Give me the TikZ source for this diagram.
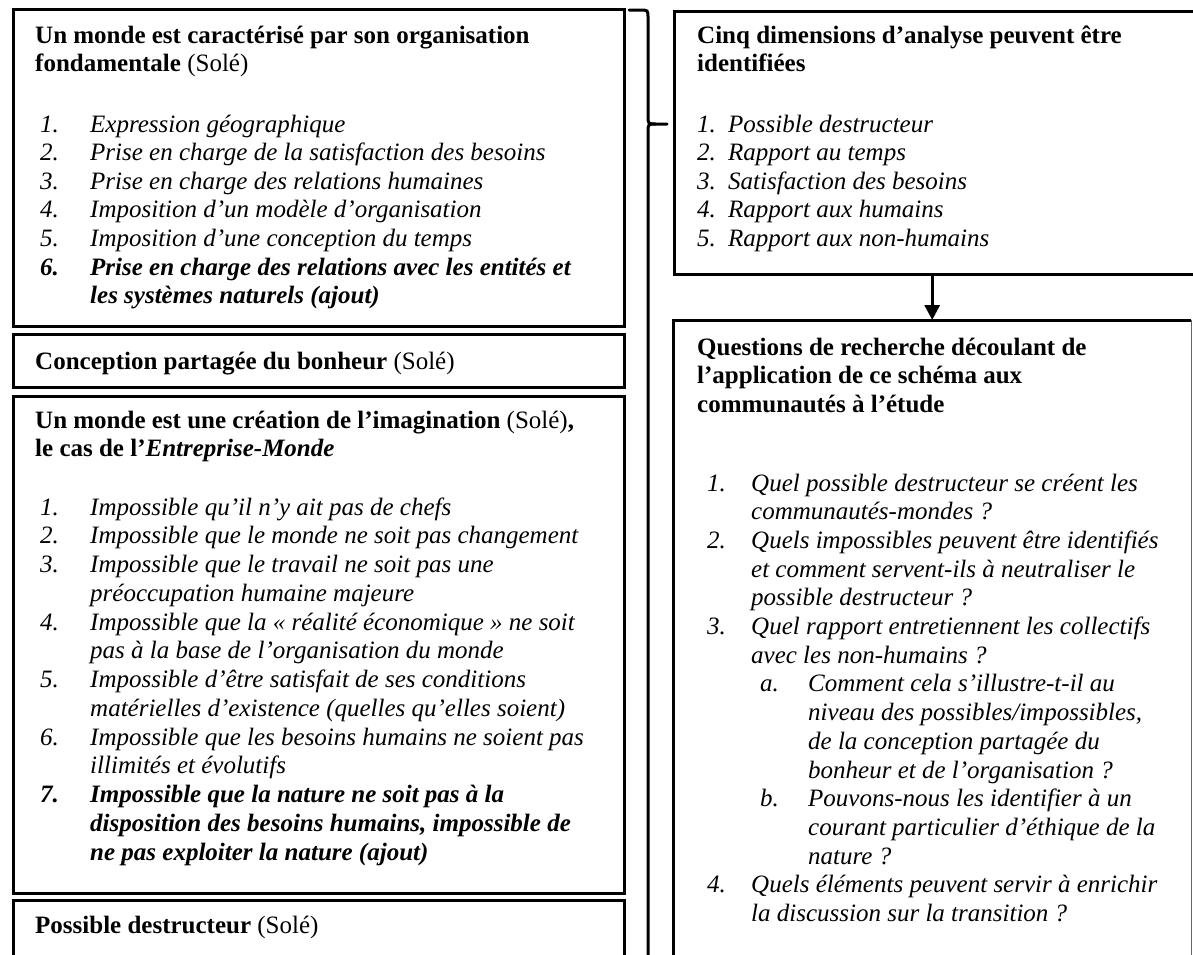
\documentclass[tikz,border=0pt]{standalone}
\usepackage{fontspec}
\setmainfont{Liberation Serif}
\usetikzlibrary{arrows.meta}
% number cell of fixed width, used for the hanging lists
\newcommand{\nm}[2]{\makebox[#1][l]{#2}}
\newcommand{\bi}[1]{\textbf{\textit{#1}}}

\begin{document}
\begin{tikzpicture}[x=1pt,y=-1pt,
  frame/.style={draw=black, line width=3pt, inner sep=0pt, anchor=north west},
  plain/.style={inner sep=0pt, anchor=north west},
  txt/.style={anchor=base west, inner sep=0pt, font=\fontsize{25}{28}\selectfont},
  spaced/.style={font=\fontsize{25}{#1}\selectfont},
  conn/.style={draw=black, line width=3pt},
]
\useasboundingbox (0,0) rectangle (1193,954);
\clip (0,0) rectangle (1193,954);

% ---------------- left column ----------------
\node[frame, minimum width=611pt, minimum height=317pt] (b1) at (12,8) {};
\node[frame, minimum width=611pt, minimum height=53pt]  (b2) at (12,333) {};
\node[frame, minimum width=611pt, minimum height=497pt] (b3) at (12,395) {};
\node[frame, minimum width=611pt, minimum height=120pt] (b4) at (12,899) {};

\node[txt] (b1title) at (35,43) {\begin{tabular}[t]{@{}l@{}}
\textbf{Un monde est caractérisé par son organisation}\\
\textbf{fondamentale} (Solé)
\end{tabular}};
\node[txt, spaced=28.6] (b1list) at (40,132) {\begin{tabular}[t]{@{}l@{}}
\nm{50pt}{\textit{1.}}\textit{Expression géographique}\\
\nm{50pt}{\textit{2.}}\textit{Prise en charge de la satisfaction des besoins}\\
\nm{50pt}{\textit{3.}}\textit{Prise en charge des relations humaines}\\
\nm{50pt}{\textit{4.}}\textit{Imposition d’un modèle d’organisation}\\
\nm{50pt}{\textit{5.}}\textit{Imposition d’une conception du temps}\\
\nm{50pt}{\bi{6.}}\bi{Prise en charge des relations avec les entités et}\\
\hspace*{50pt}\bi{les systèmes naturels (ajout)}
\end{tabular}};

\node[txt] (b2title) at (35,369) {\textbf{Conception partagée du bonheur} (Solé)};

\node[txt] (b3title) at (35,428) {\begin{tabular}[t]{@{}l@{}}
\textbf{Un monde est une création de l’imagination} (Solé)\textbf{,}\\
\textbf{le cas de l’}\bi{Entreprise-Monde}
\end{tabular}};
\node[txt, spaced=28.75] (b3list) at (40,515) {\begin{tabular}[t]{@{}l@{}}
\nm{50pt}{\textit{1.}}\textit{Impossible qu’il n’y ait pas de chefs}\\
\nm{50pt}{\textit{2.}}\textit{Impossible que le monde ne soit pas changement}\\
\nm{50pt}{\textit{3.}}\textit{Impossible que le travail ne soit pas une}\\
\hspace*{50pt}\textit{préoccupation humaine majeure}\\
\nm{50pt}{\textit{4.}}\textit{Impossible que la « réalité économique » ne soit}\\
\hspace*{50pt}\textit{pas à la base de l’organisation du monde}\\
\nm{50pt}{\textit{5.}}\textit{Impossible d’être satisfait de ses conditions}\\
\hspace*{50pt}\textit{matérielles d’existence (quelles qu’elles soient)}\\
\nm{50pt}{\textit{6.}}\textit{Impossible que les besoins humains ne soient pas}\\
\hspace*{50pt}\textit{illimités et évolutifs}\\
\nm{50pt}{\bi{7.}}\bi{Impossible que la nature ne soit pas à la}\\
\hspace*{50pt}\bi{disposition des besoins humains, impossible de}\\
\hspace*{50pt}\bi{ne pas exploiter la nature (ajout)}
\end{tabular}};

\node[txt] (b4title) at (35,933) {\textbf{Possible destructeur} (Solé)};

% ---------------- right column ----------------
\node[frame, minimum width=540pt, minimum height=263pt] (r1) at (673,10) {};
\node[plain, minimum width=518pt, minimum height=660pt] (r2) at (673,320) {};
\draw[conn] (r2.south west) -- (r2.north west) -- (r2.north east);
\draw[draw=black!60, line width=1.2pt] (r2.north east) -- (r2.south east);

\node[txt] (r1title) at (697,43) {\begin{tabular}[t]{@{}l@{}}
\textbf{Cinq dimensions d’analyse peuvent être}\\
\textbf{identifiées}
\end{tabular}};
\node[txt, spaced=28.6] (r1list) at (697,132) {\begin{tabular}[t]{@{}l@{}}
\nm{31pt}{\textit{1.}}\textit{Possible destructeur}\\
\nm{31pt}{\textit{2.}}\textit{Rapport au temps}\\
\nm{31pt}{\textit{3.}}\textit{Satisfaction des besoins}\\
\nm{31pt}{\textit{4.}}\textit{Rapport aux humains}\\
\nm{31pt}{\textit{5.}}\textit{Rapport aux non-humains}
\end{tabular}};

\node[txt, spaced=28.7] (r2title) at (697,355) {\begin{tabular}[t]{@{}l@{}}
\textbf{Questions de recherche découlant de}\\
\textbf{l’application de ce schéma aux}\\
\textbf{communautés à l’étude}
\end{tabular}};
\node[txt, spaced=28.7] (r2list) at (707,491) {\begin{tabular}[t]{@{}l@{}}
\nm{44pt}{\textit{1.}}\textit{Quel possible destructeur se créent les}\\
\hspace*{44pt}\textit{communautés-mondes ?}\\
\nm{44pt}{\textit{2.}}\textit{Quels impossibles peuvent être identifiés}\\
\hspace*{44pt}\textit{et comment servent-ils à neutraliser le}\\
\hspace*{44pt}\textit{possible destructeur ?}\\
\nm{44pt}{\textit{3.}}\textit{Quel rapport entretiennent les collectifs}\\
\hspace*{44pt}\textit{avec les non-humains ?}\\
\hspace*{53pt}\nm{48pt}{\textit{a.}}\textit{Comment cela s’illustre-t-il au}\\
\hspace*{101pt}\textit{niveau des possibles/impossibles,}\\
\hspace*{101pt}\textit{de la conception partagée du}\\
\hspace*{101pt}\textit{bonheur et de l’organisation ?}\\
\hspace*{53pt}\nm{48pt}{\textit{b.}}\textit{Pouvons-nous les identifier à un}\\
\hspace*{101pt}\textit{courant particulier d’éthique de la}\\
\hspace*{101pt}\textit{nature ?}\\
\nm{44pt}{\textit{4.}}\textit{Quels éléments peuvent servir à enrichir}\\
\hspace*{44pt}\textit{la discussion sur la transition ?}
\end{tabular}};

% ---------------- connectors ----------------
% curly brace gathering the left column and pointing at the first dimension box
\coordinate (braceTop) at (629,10);
\coordinate (braceTip) at (667,124);
\draw[conn, line cap=round]
  (braceTop) -- (640,10) .. controls (648,10) .. (648,18)
  -- (648,116) .. controls (648,124) .. (656,124) -- (braceTip);
\draw[conn] (656,124) .. controls (648,124) .. (648,132) -- (648,980);

% arrow from the dimensions to the research questions
\draw[conn, -{Triangle[length=15pt,width=15pt]}] (r2.north |- r1.south) -- (r2.north);
\end{tikzpicture}
\end{document}
